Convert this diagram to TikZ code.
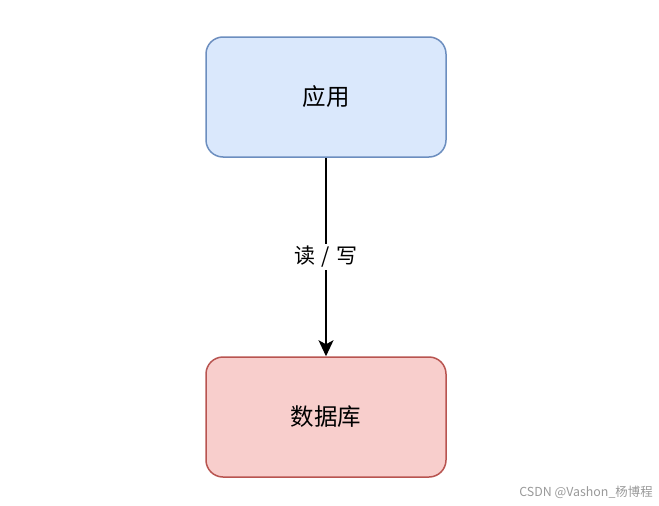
\documentclass[tikz,border=0pt]{standalone}
\usepackage{fontspec}
\usepackage{xcolor}
\usepackage{tikz}
\usetikzlibrary{positioning,arrows.meta}
\newfontfamily\cjk{Noto Sans CJK SC}
\definecolor{appfill}{HTML}{DAE8FC}
\definecolor{appline}{HTML}{6C8EBF}
\definecolor{dbfill}{HTML}{F8CECC}
\definecolor{dbline}{HTML}{B85450}

\begin{document}
\begin{tikzpicture}[x=1pt, y=-1pt,
		box/.style={rounded corners=17pt, line width=1.5pt, minimum width=240pt, minimum height=120pt, font=\cjk\fontsize{23.5}{28}\selectfont}]
		\useasboundingbox (0,0) rectangle (659,506);
		\node[box, draw=appline, fill=appfill] (app) at (326,97) {应用};
		\node[box, draw=dbline, fill=dbfill, below=198.5pt of app] (db) {数据库};
		\draw[line width=1.5pt, -{Stealth[length=16pt, width=15pt, inset=4pt]}] (app) -- (db) node[midway, fill=white, inner sep=2pt, font=\cjk\fontsize{21}{26}\selectfont] (rw) {读\hspace{6pt}/\hspace{6pt}写};
		\node[text=black!40, font=\cjk\fontsize{12.4}{15}\selectfont] (mark) at (586,492) {CSDN @Vashon\_杨博程};
		\end{tikzpicture}
\end{document}
